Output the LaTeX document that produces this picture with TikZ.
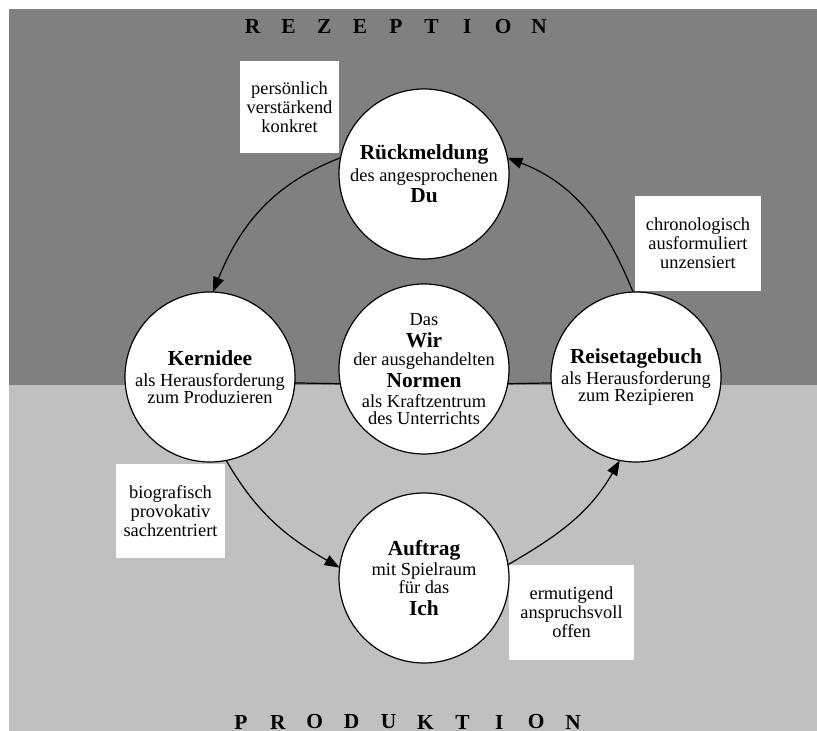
\documentclass[tikz,border=0pt]{standalone}
\usepackage{fontspec}
\setmainfont{Liberation Serif}
\usepackage{xcolor}
\usetikzlibrary{arrows.meta}
\definecolor{rezgray}{RGB}{128,128,128}
\definecolor{prodgray}{RGB}{192,192,192}
\newcommand{\kw}[1]{{\fontsize{10.7}{10.8}\selectfont\bfseries #1}}

\begin{document}
\begin{tikzpicture}[x=0.5pt,y=0.5pt,
  stage/.style={circle,draw,fill=white,line width=0.6pt,minimum size=85pt,inner sep=0pt,outer sep=0pt},
  stagetext/.style={align=center,inner sep=0pt,font=\fontsize{9.2}{10.8}\selectfont},
  note/.style={fill=white,align=center,inner sep=0pt,font=\fontsize{9.2}{9.4}\selectfont},
  letter/.style={inner sep=0pt,font=\fontsize{10.7}{10.8}\selectfont\bfseries},
  cycle/.style={line width=0.6pt,-{Triangle[length=7.5pt,width=5.5pt]}},
  spoke/.style={line width=0.6pt}]
  \useasboundingbox (0,0) rectangle (817,731);
  \fill[rezgray] (9,346) rectangle (817,722);
  \fill[prodgray] (9,0) rectangle (817,346);
  \foreach \ch [count=\i from 0] in {R,E,Z,E,P,T,I,O,N}
    \node[letter] (rez-\i) at ({252.6+35.8*\i},704) {\ch};
  \foreach \ch [count=\i from 0] in {P,R,O,D,U,K,T,I,O,N}
    \node[letter] (prod-\i) at ({241+36.9*\i},9) {\ch};
  % Eigenschaften
  \node[note,minimum width=49.5pt,minimum height=46pt] (n-pers) at (289.5,624) {persönlich\\verstärkend\\konkret};
  \node[note,minimum width=63pt,minimum height=47.5pt] (n-chro) at (698,487.5) {chronologisch\\ausformuliert\\unzensiert};
  \node[note,minimum width=54.5pt,minimum height=47pt] (n-bio) at (170.5,220) {biografisch\\provokativ\\sachzentriert};
  \node[note,minimum width=62.5pt,minimum height=47.5pt] (n-erm) at (571.5,118.5) {ermutigend\\anspruchsvoll\\offen};
  % Stationen
  \node[stage] (R) at (424,557) {};
  \node[stage] (K) at (210,354) {};
  \node[stage] (W) at (424,362) {};
  \node[stage] (T) at (636,354) {};
  \node[stage] (A) at (424,153) {};
  \node[stagetext] (R-txt) at (R) {\kw{Rückmeldung}\\des angesprochenen\\\kw{Du}};
  \node[stagetext] (K-txt) at (K) {\kw{Kernidee}\\als Herausforderung\\[-2.4pt]zum Produzieren};
  \node[stagetext] (W-txt) at (W) {Das\\\kw{Wir}\\[-1.6pt]der ausgehandelten\\\kw{Normen}\\[-0.8pt]als Kraftzentrum\\[-2.4pt]des Unterrichts};
  \node[stagetext] (T-txt) at (T) {\kw{Reisetagebuch}\\als Herausforderung\\[-2.4pt]zum Rezipieren};
  \node[stagetext] (A-txt) at (A) {\kw{Auftrag}\\[-0.8pt]mit Spielraum\\[-1.6pt]für das\\\kw{Ich}};
  \draw[cycle] (T.92) to[out=112,in=-21] (R.11);
  \draw[cycle] (R.169) to[out=201,in=68] (K.88);
  \draw[cycle] (K.-79) to[out=-60,in=150] (A.173);
  \draw[cycle] (A.9) to[out=30,in=-120] (T.-101);
  \draw[spoke] (K.-4.7) -- (W.190.2);
  \draw[spoke] (W.-10.2) -- (T.184.7);
\end{tikzpicture}
\end{document}
